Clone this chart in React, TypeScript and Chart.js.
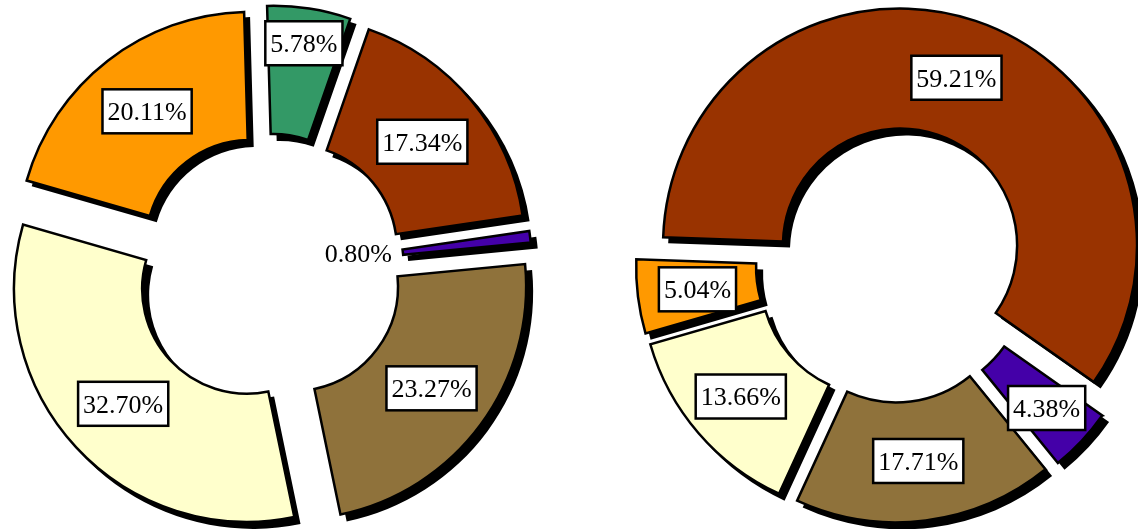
import React, { useEffect, useRef } from 'react';
import { Chart, registerables } from 'chart.js';

Chart.register(...registerables);

// ---------- data ----------
const leftCategories = ['Green', 'Rust', 'Purple', 'Olive', 'Cream', 'Orange'];
const leftValues = [5.78, 17.34, 0.8, 23.27, 32.7, 20.11];

const rightCategories = ['Rust', 'Purple', 'Olive', 'Cream', 'Orange'];
const rightValues = [59.21, 4.38, 17.71, 13.66, 5.04];

// ---------- styling ----------
const COLORS: Record<string, string> = {
  Green: '#339966',
  Rust: '#993300',
  Purple: '#4400A8',
  Olive: '#8F723B',
  Cream: '#FFFFCC',
  Orange: '#FF9900',
};

const FONT = '26px "Liberation Serif", "Times New Roman", serif';

const decoPlugin = {
  id: 'donutDeco',
  afterDatasetUpdate(chart: any, args: any, opts: any) {
    const meta = chart.getDatasetMeta(args.index);
    meta.data.forEach((arc: any) => {
      const mid = (arc.startAngle + arc.endAngle) / 2;
      arc.x += Math.cos(mid) * opts.explode;
      arc.y += Math.sin(mid) * opts.explode;
    });
  },
  beforeDatasetDraw(chart: any, args: any, opts: any) {
    const ctx = chart.ctx;
    const meta = chart.getDatasetMeta(args.index);
    const s = opts.shadow;
    ctx.save();
    ctx.fillStyle = '#000';
    meta.data.forEach((arc: any) => {
      const { x, y, startAngle, endAngle, innerRadius, outerRadius } = arc;
      ctx.beginPath();
      ctx.arc(x + s, y + s, outerRadius + 1, startAngle, endAngle);
      ctx.arc(x + s, y + s, Math.max(innerRadius - 1, 0), endAngle, startAngle, true);
      ctx.closePath();
      ctx.fill();
    });
    ctx.restore();
  },
  afterDatasetsDraw(chart: any, _args: any, opts: any) {
    const ctx = chart.ctx;
    const meta = chart.getDatasetMeta(0);
    const values: number[] = chart.data.datasets[0].data;
    ctx.save();
    ctx.font = FONT;
    meta.data.forEach((arc: any, i: number) => {
      const v = values[i];
      const text = v.toFixed(2) + '%';
      const mid = (arc.startAngle + arc.endAngle) / 2;
      const { x, y, innerRadius, outerRadius } = arc;
      const tw = ctx.measureText(text).width;
      if (v < 2) {
        // tiny slice: plain text inside the hole, right-aligned
        const rr = innerRadius - 11;
        const px = x + Math.cos(mid) * rr;
        const py = y + Math.sin(mid) * rr;
        ctx.fillStyle = '#000';
        ctx.textAlign = 'right';
        ctx.textBaseline = 'middle';
        ctx.fillText(text, px, py + 2);
        return;
      }
      const extra = (opts.radiusShift && opts.radiusShift[i]) || 0;
      const rr = (innerRadius + outerRadius) / 2 + extra;
      const cx = x + Math.cos(mid) * rr;
      const cy = y + Math.sin(mid) * rr;
      const bw = tw + 10;
      const bh = 44;
      ctx.fillStyle = '#fff';
      ctx.fillRect(cx - bw / 2, cy - bh / 2, bw, bh);
      ctx.strokeStyle = '#000';
      ctx.lineWidth = 2.5;
      ctx.strokeRect(cx - bw / 2, cy - bh / 2, bw, bh);
      ctx.fillStyle = '#000';
      ctx.textAlign = 'center';
      ctx.textBaseline = 'middle';
      ctx.fillText(text, cx, cy + 2);
    });
    ctx.restore();
  },
};

function makeConfig(
  categories: string[],
  values: number[],
  opts: { rotation: number; radius: number; cutout: string; padding: any; explode: number; radiusShift?: number[] }
): any {
  return {
    type: 'doughnut',
    data: {
      labels: categories,
      datasets: [
        {
          data: values,
          backgroundColor: categories.map((c) => COLORS[c]),
          borderColor: '#000',
          borderWidth: 2.5,
          borderJoinStyle: 'miter',
        },
      ],
    },
    options: {
      animation: false,
      responsive: false,
      events: [],
      rotation: opts.rotation,
      radius: opts.radius,
      cutout: opts.cutout,
      layout: { padding: opts.padding },
      plugins: {
        legend: { display: false },
        tooltip: { enabled: false },
        donutDeco: { explode: opts.explode, shadow: 6, radiusShift: opts.radiusShift },
      },
    },
    plugins: [decoPlugin],
  };
}

const W = 1138;
const H = 529;

export default function App() {
  const leftRef = useRef<HTMLCanvasElement>(null);
  const rightRef = useRef<HTMLCanvasElement>(null);

  useEffect(() => {
    const left = new Chart(
      leftRef.current as HTMLCanvasElement,
      makeConfig(leftCategories, leftValues, {
        rotation: -1.6,
        radius: 233,
        cutout: '45%',
        padding: { left: 0, right: W - 538, top: 8, bottom: 0 },
        explode: 30,
        radiusShift: [29, 0, 0, 3, 0, 0],
      })
    );
    const right = new Chart(
      rightRef.current as HTMLCanvasElement,
      makeConfig(rightCategories, rightValues, {
        rotation: -88,
        radius: 237,
        cutout: '49.4%',
        padding: { left: 649, right: 0, top: 1, bottom: 0 },
        explode: 20.5,
        radiusShift: [0, 12, 0, 4, 0],
      })
    );
    return () => {
      left.destroy();
      right.destroy();
    };
  }, []);

  const canvasStyle: React.CSSProperties = { position: 'absolute', left: 0, top: 0, width: W, height: H };

  return (
    <div style={{ position: 'fixed', left: 0, top: 0, width: W, height: H, background: '#fff' }}>
      <canvas ref={leftRef} width={W} height={H} style={canvasStyle} />
      <canvas ref={rightRef} width={W} height={H} style={canvasStyle} />
    </div>
  );
}
